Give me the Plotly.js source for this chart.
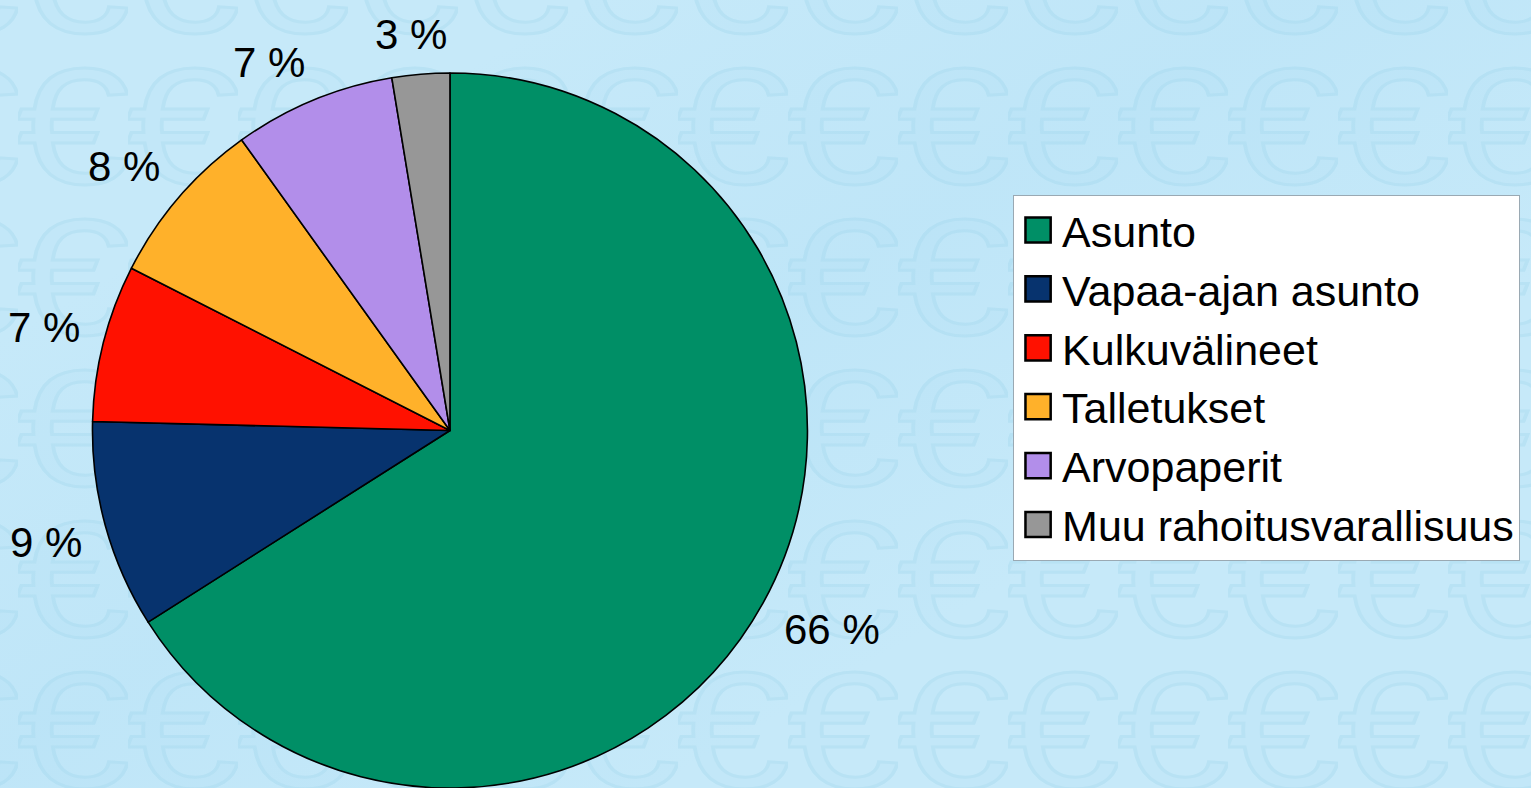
<!DOCTYPE html>
<html>
<head>
<meta charset="utf-8">
<script src="https://cdn.plot.ly/plotly-3.0.1.min.js"></script>
<style>
  html, body { margin: 0; padding: 0; width: 1531px; height: 788px; overflow: hidden; }
  #bg { position: absolute; left: 0; top: 0; width: 1531px; height: 788px; background-color: #c6e9f9; }
  #chart { position: absolute; left: 0; top: 0; width: 1531px; height: 788px; }
</style>
</head>
<body>
<div id="bg"></div>
<div id="chart"></div>
<script>
// Data
const categories = ["Asunto", "Vapaa-ajan asunto", "Kulkuvälineet", "Talletukset", "Arvopaperit", "Muu rahoitusvarallisuus"];
const shares = [66.0, 9.4, 7.1, 7.6, 7.3, 2.6];
const sliceColors = ["#008f66", "#07336e", "#ff1100", "#ffb12a", "#b28eea", "#979797"];

const total = shares.reduce((a, b) => a + b, 0);
const labelTexts = shares.map(v => Math.round(v / total * 100) + " %");

// Background euro pattern (decoration only)
const svg = "<svg xmlns='http://www.w3.org/2000/svg' width='110' height='151'>" +
  "<text x='0' y='0' transform='translate(55,140) scale(1.25,1)' font-family='Liberation Sans, Arial, sans-serif' font-size='165' text-anchor='middle' fill='#c2e7f8' stroke='#b8e2f4' stroke-width='3'>€</text></svg>";
const bg = document.getElementById('bg');
bg.style.backgroundImage = "linear-gradient(150deg, rgba(255,255,255,0.0) 20%, rgba(150,210,240,0.15) 45%, rgba(255,255,255,0.0) 70%), url(\"data:image/svg+xml;utf8," + encodeURIComponent(svg) + "\")";
bg.style.backgroundPosition = "0 0, 18px 43px";

// Geometry of the figure
const W = 1531, H = 788, mT = 73, mB = 0;
const pieDomainX = [0, 0.5878];
const plotH = H - mT - mB;
const cx = (pieDomainX[0] + pieDomainX[1]) / 2 * W;
const cy = mT + plotH / 2;
const R = Math.min((pieDomainX[1] - pieDomainX[0]) * W, plotH) / 2;

// Outside percentage labels placed along each slice's mid-angle (from the data)
const labelFont = { family: "Liberation Sans, Arial, sans-serif", size: 42, color: "#000000" };
const ctx = document.createElement('canvas').getContext('2d');
ctx.font = labelFont.size + "px 'Liberation Sans', Arial, sans-serif";
const clamp = v => Math.max(-1, Math.min(1, v));
const annotations = [];
let cum = 0;
shares.forEach((v, i) => {
  const mid = (cum + v / 2) / total * 2 * Math.PI;
  cum += v;
  const ux = Math.sin(mid), uy = -Math.cos(mid);
  const D = R * 1.068;
  const w2 = ctx.measureText(labelTexts[i]).width / 2;
  const h2 = 15;
  const px = cx + D * ux + w2 * clamp(2.5 * ux);
  const py = cy + D * uy + h2 * clamp(2.5 * uy);
  annotations.push({
    xref: "paper", yref: "paper",
    x: px / W, y: (H - mB - py) / plotH,
    xanchor: "center", yanchor: "middle",
    text: labelTexts[i], showarrow: false,
    font: labelFont
  });
});

const trace = {
  type: "pie",
  labels: categories,
  values: shares,
  textinfo: "none",
  sort: false,
  direction: "clockwise",
  rotation: 0,
  marker: { colors: sliceColors, line: { color: "#000000", width: 1.6 } },
  domain: { x: pieDomainX, y: [0, 1] },
  hoverinfo: "label+percent",
  showlegend: true
};

const layout = {
  width: W,
  height: H,
  margin: { l: 0, r: 0, t: mT, b: mB },
  paper_bgcolor: "rgba(0,0,0,0)",
  plot_bgcolor: "rgba(0,0,0,0)",
  showlegend: true,
  annotations: annotations,
  legend: {
    x: 0.6617, xanchor: "left",
    y: 0.83, yanchor: "top",
    bgcolor: "#ffffff",
    bordercolor: "#9aa9b3",
    borderwidth: 1,
    font: { family: "Liberation Sans, Arial, sans-serif", size: 43, color: "#000000" },
    itemwidth: 38,
    traceorder: "normal"
  },
  font: { family: "Liberation Sans, Arial, sans-serif", color: "#000000" }
};

Plotly.newPlot("chart", [trace], layout, { displayModeBar: false, staticPlot: true }).then(function (gd) {
  gd.querySelectorAll('.legendpoints path').forEach(function (p) {
    const t = p.getAttribute('transform') || '';
    p.setAttribute('transform', t + ' scale(2.1)');
    p.style.strokeWidth = '1.2px';
    p.style.stroke = '#000';
  });
});
</script>
</body>
</html>
